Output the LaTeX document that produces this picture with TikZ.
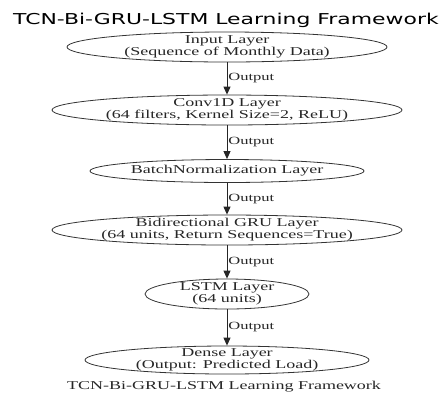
\documentclass[tikz,border=0pt]{standalone}
\usepackage{fontspec}
\usepackage{graphicx}
\usetikzlibrary{shapes.geometric,arrows.meta}
\newfontfamily\nodefont{Liberation Serif}
\newfontfamily\titlefont{DejaVu Sans}
\newcommand{\widetext}[1]{\scalebox{1.5}[1]{\begin{tabular}{@{}c@{}}#1\end{tabular}}}
\begin{document}
\begin{tikzpicture}[x=1bp,y=-1bp,
  layer/.style={ellipse, draw=black!80, line width=0.8bp, inner sep=0pt},
  ltext/.style={font=\nodefont\fontsize{12bp}{12.5bp}\selectfont, align=center, text=black!85, inner sep=0pt},
  elabel/.style={font=\nodefont\fontsize{11bp}{12bp}\selectfont, anchor=west, inner sep=0pt, xshift=1bp, text=black!85},
  flow/.style={draw=black!85, line width=0.9bp, -{Triangle[length=8bp,width=7bp]}}
]
\useasboundingbox (0,0) rectangle (440,392);
\node[anchor=base west, font=\titlefont\fontsize{15bp}{16bp}\selectfont, inner sep=0pt] (title) at (13,24) {\scalebox{1.46}[1]{TCN-Bi-GRU-LSTM Learning Framework}};

\node[layer, minimum width=320bp, minimum height=30bp] (in) at (227,47) {};
\node[ltext] (intext) at (in) {\widetext{Input Layer\\(Sequence of Monthly Data)}};

\node[layer, minimum width=350bp, minimum height=30bp] (conv) at (227,110) {};
\node[ltext] (convtext) at (conv) {\widetext{Conv1D Layer\\(64 filters, Kernel Size=2, ReLU)}};

\node[layer, minimum width=274bp, minimum height=23bp] (bn) at (227,171) {};
\node[ltext] (bntext) at (bn) {\widetext{BatchNormalization Layer}};

\node[layer, minimum width=350bp, minimum height=30bp] (gru) at (227,230) {};
\node[ltext] (grutext) at (gru) {\widetext{Bidirectional GRU Layer\\(64 units, Return Sequences=True)}};

\node[layer, minimum width=164bp, minimum height=30bp] (lstm) at (227,294) {};
\node[ltext] (lstmtext) at (lstm) {\widetext{LSTM Layer\\(64 units)}};

\node[layer, minimum width=284bp, minimum height=28bp] (dense) at (227,360) {};
\node[ltext] (densetext) at (dense) {\widetext{Dense Layer\\(Output: Predicted Load)}};

\draw[flow] (in.south) -- node[elabel] {\scalebox{1.5}[1]{Output}} (conv.north);
\draw[flow] (conv.south) -- node[elabel] {\scalebox{1.5}[1]{Output}} (bn.north);
\draw[flow] (bn.south) -- node[elabel] {\scalebox{1.5}[1]{Output}} (gru.north);
\draw[flow] (gru.south) -- node[elabel] {\scalebox{1.5}[1]{Output}} (lstm.north);
\draw[flow] (lstm.south) -- node[elabel] {\scalebox{1.5}[1]{Output}} (dense.north);

\node[anchor=base, font=\nodefont\fontsize{12bp}{12bp}\selectfont, inner sep=0pt, text=black!85] (caption) at (224,389) {\scalebox{1.5}[1]{TCN-Bi-GRU-LSTM Learning Framework}};
\end{tikzpicture}
\end{document}
